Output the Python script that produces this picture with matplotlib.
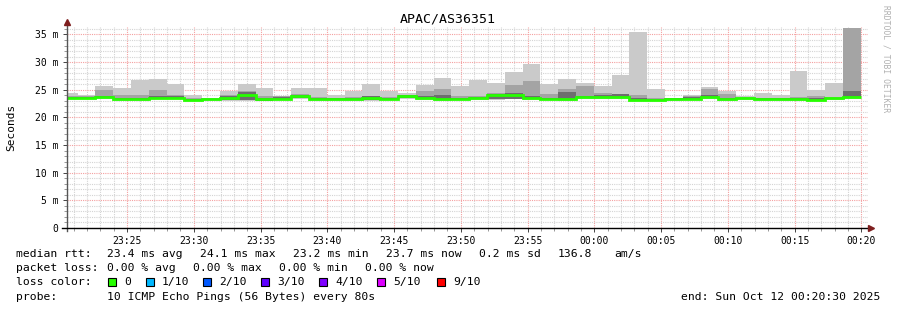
import datetime as dt

import matplotlib
matplotlib.use("Agg")
import matplotlib.dates as mdates
import matplotlib.pyplot as plt
import numpy as np
from matplotlib.patches import Rectangle
from matplotlib.ticker import FuncFormatter, MultipleLocator

TITLE = "APAC/AS36351"
START = dt.datetime(2025, 10, 11, 23, 20, 30)
END = dt.datetime(2025, 10, 12, 0, 20, 30)
FIRST_EDGE = dt.datetime(2025, 10, 11, 23, 21, 18)
STEP_S = 80

# rtt per 80 s step, in ms: smoke band limits and median
MAX_RTT = [24.4, 24.1, 25.7, 25.3, 26.8, 27.0, 26.0, 24.1, 23.6, 24.8,
           26.1, 25.3, 23.9, 25.3, 25.3, 24.1, 24.8, 26.0, 24.8, 24.5,
           25.9, 27.1, 25.6, 26.8, 26.2, 28.2, 29.7, 26.0, 26.9, 26.3,
           25.7, 27.7, 35.4, 25.1, 23.6, 24.0, 25.5, 24.8, 23.8, 24.4,
           24.1, 28.4, 25.0, 26.2, 36.2]
HI2_RTT = [23.9, 23.9, 24.9, 24.0, 24.1, 24.9, 24.1, 23.6, 23.5, 24.1,
           24.7, 23.8, 23.8, 24.2, 23.7, 23.6, 23.7, 23.9, 23.7, 24.1,
           24.8, 25.1, 23.8, 23.9, 24.5, 25.9, 26.6, 24.2, 25.1, 25.6,
           24.4, 24.3, 24.1, 23.6, 23.5, 23.8, 25.1, 24.2, 23.7, 23.6,
           23.6, 23.7, 23.8, 23.7, 36.1]
HI3_RTT = [23.7, 23.7, 23.9, 23.5, 23.5, 23.9, 23.8, 23.4, 23.4, 23.9,
           24.6, 23.5, 23.7, 24.0, 23.5, 23.5, 23.5, 23.8, 23.6, 24.0,
           23.9, 24.0, 23.6, 23.7, 24.2, 24.4, 23.8, 23.6, 24.6, 23.9,
           24.1, 24.2, 23.5, 23.4, 23.5, 23.7, 24.0, 23.6, 23.6, 23.5,
           23.5, 23.5, 23.5, 23.6, 24.8]
LO_RTT = [23.5, 23.5, 23.5, 23.1, 23.1, 23.4, 23.4, 23.0, 23.1, 23.1,
          23.1, 23.0, 23.2, 23.5, 23.1, 23.1, 23.1, 23.1, 23.2, 23.5,
          23.3, 23.1, 23.2, 23.3, 23.3, 23.4, 23.3, 23.2, 23.1, 23.5,
          23.5, 23.5, 23.0, 23.0, 23.1, 23.2, 23.5, 23.1, 23.3, 23.1,
          23.1, 23.1, 23.0, 23.3, 23.5]
MIN_RTT = [23.4, 23.4, 23.4, 23.0, 23.0, 23.3, 23.3, 22.9, 23.0, 23.0,
           23.0, 22.9, 23.1, 23.4, 23.0, 23.0, 23.0, 23.0, 23.1, 23.4,
           23.2, 23.0, 23.1, 23.2, 23.2, 23.3, 23.2, 23.1, 23.0, 23.4,
           23.4, 23.4, 22.9, 22.9, 23.0, 23.1, 23.4, 23.0, 23.2, 23.0,
           23.0, 23.0, 22.9, 23.2, 23.4]
MEDIAN_RTT = [23.6, 23.6, 23.7, 23.3, 23.3, 23.6, 23.6, 23.2, 23.3, 23.6,
              24.1, 23.3, 23.4, 23.8, 23.3, 23.3, 23.3, 23.6, 23.4, 23.8,
              23.5, 23.3, 23.4, 23.6, 24.0, 24.0, 23.5, 23.4, 23.3, 23.7,
              23.7, 23.7, 23.2, 23.2, 23.3, 23.4, 23.7, 23.3, 23.5, 23.3,
              23.3, 23.3, 23.2, 23.5, 23.7]

SMOKE_COLORS = ["#cacaca", "#a4a4a4", "#6e6e6e"]

STATS_ROWS = [
    ("median rtt:", [(107, "23.4 ms avg"), (200, "24.1 ms max"), (293, "23.2 ms min"),
                     (386, "23.7 ms now"), (479, "0.2 ms sd"), (558, "136.8"), (614, "am/s")]),
    ("packet loss:", [(107, "0.00 % avg"), (193, "0.00 % max"), (279, "0.00 % min"),
                      (365, "0.00 % now")]),
]
LOSS_LABELS = ["0", "1/10", "2/10", "3/10", "4/10", "5/10", "9/10"]
LOSS_COLORS = ["#26ff00", "#00b8ff", "#0059ff", "#5e00ff", "#7e00ff", "#dd00ff", "#ff0000"]
LOSS_X = [108, 146, 203, 261, 319, 377, 437]
PROBE = "10 ICMP Echo Pings (56 Bytes) every 80s"
END_TEXT = "end: Sun Oct 12 00:20:30 2025"

W, H = 897, 310
MONO = "DejaVu Sans Mono"


def fx(x):
    return x / W


def fy(y):
    return 1 - y / H


fig = plt.figure(figsize=(W / 100, H / 100), dpi=100)
ax = fig.add_axes([fx(67), fy(228), (868 - 67) / W, (228 - 27.3) / H])

edges = [START] + [FIRST_EDGE + dt.timedelta(seconds=STEP_S * k) for k in range(len(MEDIAN_RTT))]
edges = mdates.date2num(edges)

ax.stairs(MAX_RTT, edges, baseline=MIN_RTT, fill=True, color=SMOKE_COLORS[0], lw=0, zorder=2)
ax.stairs(HI2_RTT, edges, baseline=LO_RTT, fill=True, color=SMOKE_COLORS[1], lw=0, zorder=3)
ax.stairs(HI3_RTT, edges, baseline=LO_RTT, fill=True, color=SMOKE_COLORS[2], lw=0, zorder=4)
ax.stairs(MEDIAN_RTT, edges, baseline=None, color=LOSS_COLORS[0], lw=2.0, zorder=5)

ax.set_xlim(mdates.date2num(START), mdates.date2num(END))
ax.set_ylim(0, 36.3)

ax.xaxis.set_major_locator(mdates.MinuteLocator(byminute=range(0, 60, 5)))
ax.xaxis.set_minor_locator(mdates.MinuteLocator())
ax.xaxis.set_major_formatter(mdates.DateFormatter("%H:%M"))
ax.yaxis.set_major_locator(MultipleLocator(5))
ax.yaxis.set_minor_locator(MultipleLocator(1))
ax.yaxis.set_major_formatter(FuncFormatter(lambda v, _: "0" if v == 0 else f"{v:g} m"))

ax.grid(which="minor", color="#d4d4d4", linestyle=(0, (1, 1)), linewidth=0.8, zorder=1)
ax.grid(which="major", color="#f4a0a0", linestyle=(0, (1, 1)), linewidth=0.8, zorder=1)
ax.set_axisbelow(True)

for side in ("top", "right", "left", "bottom"):
    ax.spines[side].set_visible(False)
ax.tick_params(which="major", length=3, width=0.7, color="#444444", labelsize=7, pad=3)
ax.tick_params(which="minor", length=2, width=0.6, color="#888888")
for lab in ax.get_xticklabels() + ax.get_yticklabels():
    lab.set_fontfamily(MONO)

# axis lines with arrow heads
ax.plot([0, 0], [-0.015, 1.02], transform=ax.transAxes, color="#555555", lw=1, clip_on=False, zorder=6)
ax.plot([-0.006, 1.003], [0, 0], transform=ax.transAxes, color="black", lw=1, clip_on=False, zorder=6)
ax.plot([0], [1.027], transform=ax.transAxes, marker="^", ms=4, color="#7f1f1f", clip_on=False, zorder=7)
ax.plot([1.004], [0], transform=ax.transAxes, marker=">", ms=4, color="#7f1f1f", clip_on=False, zorder=7)

fig.text(fx(448), fy(19), TITLE, ha="center", va="center", family=MONO, fontsize=9.5)
fig.text(fx(11), fy(127), "Seconds", ha="center", va="center", rotation=90, family=MONO, fontsize=8)
fig.text(fx(886), fy(5), "RRDTOOL / TOBI OETIKER", ha="center", va="top", rotation=270,
         family=MONO, fontsize=5.8, color="#b0b0b0")

row_y = [254.3, 268.3, 282.3, 296.7]
for (head, items), y in zip(STATS_ROWS, row_y):
    fig.text(fx(16), fy(y), head, ha="left", va="center", family=MONO, fontsize=8.2)
    for x, txt in items:
        fig.text(fx(x), fy(y), txt, ha="left", va="center", family=MONO, fontsize=8.2)

fig.text(fx(16), fy(row_y[2]), "loss color:", ha="left", va="center", family=MONO, fontsize=8.2)
for x, lab, col in zip(LOSS_X, LOSS_LABELS, LOSS_COLORS):
    fig.patches.append(Rectangle((fx(x), fy(row_y[2] + 4)), 8 / W, 8 / H, transform=fig.transFigure,
                                 facecolor=col, edgecolor="black", lw=0.8))
    fig.text(fx(x + 16), fy(row_y[2]), lab, ha="left", va="center", family=MONO, fontsize=8.2)

fig.text(fx(16), fy(row_y[3]), "probe:", ha="left", va="center", family=MONO, fontsize=8.2)
fig.text(fx(107), fy(row_y[3]), PROBE, ha="left", va="center", family=MONO, fontsize=8.2)
fig.text(fx(880), fy(row_y[3]), END_TEXT, ha="right", va="center", family=MONO, fontsize=8.2)

fig.savefig("out.png", dpi=100)
